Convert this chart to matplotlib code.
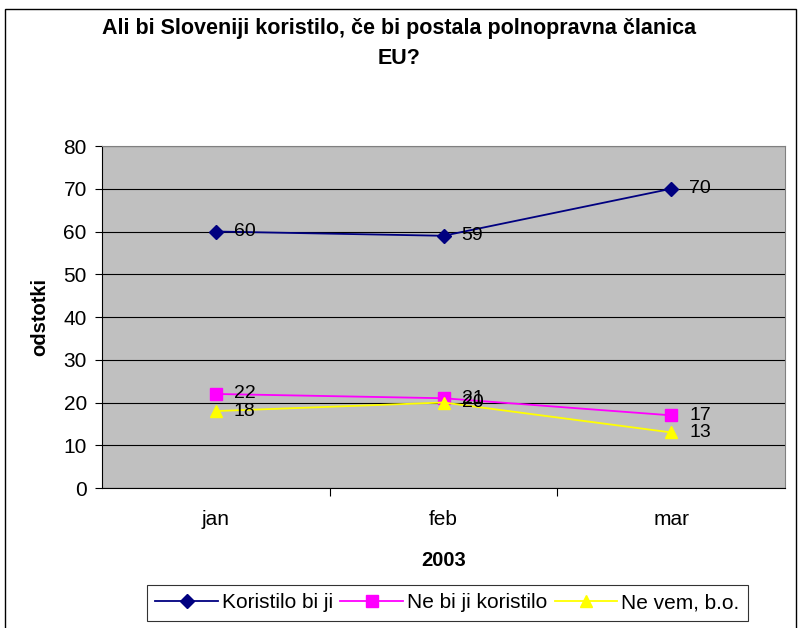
import matplotlib.pyplot as plt
from matplotlib.patches import Rectangle

plt.rcParams['font.family'] = ['Liberation Sans', 'DejaVu Sans']

meseci = ['jan', 'feb', 'mar']
koristilo = [60, 59, 70]
ne_koristilo = [22, 21, 17]
ne_vem = [18, 20, 13]

fig = plt.figure(figsize=(7.99, 6.28), dpi=100)
ax = fig.add_axes([0.1277, 0.2229, 0.8548, 0.5446])

# okvir okrog celega grafikona
fig.patches.append(Rectangle((0.006, -0.01), 0.99, 0.995, transform=fig.transFigure,
                             fill=False, edgecolor='black', linewidth=1))

ax.set_facecolor('#C0C0C0')
x = range(len(meseci))
ax.plot(x, koristilo, color='#000080', marker='D', markersize=7, linewidth=1.3, label='Koristilo bi ji')
ax.plot(x, ne_koristilo, color='#FF00FF', marker='s', markersize=8, linewidth=1.3, label='Ne bi ji koristilo')
ax.plot(x, ne_vem, color='#FFFF00', marker='^', markersize=9, linewidth=1.3, label='Ne vem, b.o.')

for serija in (koristilo, ne_koristilo, ne_vem):
    for i, v in enumerate(serija):
        ax.annotate(str(v), (i, v), xytext=(13, 0), textcoords='offset points',
                    va='center', ha='left', fontsize=14)

ax.set_xlim(-0.5, 2.5)
ax.set_ylim(0, 80)
ax.set_yticks(range(0, 81, 10))
ax.yaxis.grid(True, color='black', linewidth=0.8)
ax.set_axisbelow(True)
ax.set_xticks([0.5, 1.5])
ax.set_xticks(list(x), minor=True)
ax.set_xticklabels(['', ''])
ax.set_xticklabels(meseci, minor=True)
ax.tick_params(axis='x', which='minor', length=0, pad=16, labelsize=15)
ax.tick_params(axis='x', which='major', length=6, direction='out')
ax.tick_params(axis='y', length=5, direction='out', labelsize=15, pad=6)
for s in ['top', 'right']:
    ax.spines[s].set_color('#808080')
ax.spines['left'].set_color('black')
ax.spines['bottom'].set_color('black')

ax.set_ylabel('odstotki', fontsize=14.5, fontweight='bold', labelpad=10)
ax.set_xlabel('2003', fontsize=14.5, fontweight='bold', labelpad=16)
fig.suptitle('Ali bi Sloveniji koristilo, če bi postala polnopravna članica\nEU?',
             fontsize=15.5, fontweight='bold', y=0.972, linespacing=1.6)

leg = fig.legend(loc='center', bbox_to_anchor=(0.56, 0.04), ncol=3, frameon=True,
                 fancybox=False, edgecolor='black', fontsize=15, handlelength=3.0,
                 columnspacing=0.35, handletextpad=0.2, borderpad=0.4)
leg.get_frame().set_linewidth(0.8)

fig.savefig('out.png', dpi=100)
